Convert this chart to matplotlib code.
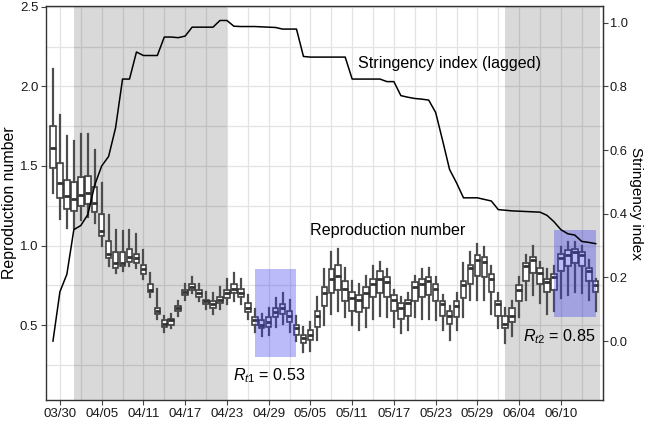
import numpy as np
import pandas as pd
import matplotlib
matplotlib.use('Agg')
import matplotlib.pyplot as plt
import matplotlib.dates as mdates
from matplotlib.patches import Rectangle

plt.rcParams['font.family'] = ['Liberation Sans', 'DejaVu Sans']
plt.rcParams['mathtext.fontset'] = 'custom'
plt.rcParams['mathtext.it'] = 'Liberation Sans:italic'
plt.rcParams['mathtext.rm'] = 'Liberation Sans'

# daily estimates, 03/29 .. 06/15
dates = pd.date_range('2020-03-29', '2020-06-15')

r_lo = [1.33, 1.17, 1.11, 1.11, 1.16, 1.18, 1.14, 1.00, 0.87, 0.83,
        0.84, 0.87, 0.86, 0.79, 0.68, 0.54, 0.46, 0.48, 0.56, 0.66,
        0.70, 0.65, 0.60, 0.57, 0.60, 0.63, 0.65, 0.63, 0.54, 0.46,
        0.43, 0.44, 0.49, 0.51, 0.46, 0.40, 0.33, 0.34, 0.41, 0.50,
        0.57, 0.59, 0.55, 0.50, 0.47, 0.49, 0.54, 0.56, 0.55, 0.49,
        0.45, 0.47, 0.55, 0.54, 0.54, 0.53, 0.47, 0.41, 0.47, 0.55,
        0.66, 0.66, 0.66, 0.57, 0.48, 0.39, 0.43, 0.55, 0.66, 0.69,
        0.64, 0.57, 0.59, 0.67, 0.69, 0.71, 0.70, 0.66, 0.59]
r_q1 = [1.49, 1.30, 1.23, 1.22, 1.25, 1.26, 1.21, 1.06, 0.92, 0.86,
        0.87, 0.90, 0.89, 0.82, 0.71, 0.57, 0.49, 0.50, 0.59, 0.69,
        0.72, 0.68, 0.63, 0.61, 0.64, 0.67, 0.70, 0.68, 0.58, 0.50,
        0.48, 0.49, 0.55, 0.57, 0.52, 0.44, 0.39, 0.41, 0.49, 0.62,
        0.70, 0.72, 0.65, 0.59, 0.58, 0.61, 0.68, 0.70, 0.68, 0.59,
        0.54, 0.56, 0.65, 0.68, 0.69, 0.65, 0.56, 0.51, 0.55, 0.67,
        0.76, 0.81, 0.80, 0.71, 0.56, 0.48, 0.52, 0.65, 0.78, 0.83,
        0.76, 0.71, 0.72, 0.84, 0.87, 0.89, 0.87, 0.78, 0.71]
r_med = [1.61, 1.39, 1.31, 1.29, 1.32, 1.33, 1.27, 1.09, 0.95, 0.89,
         0.89, 0.93, 0.92, 0.85, 0.72, 0.59, 0.51, 0.53, 0.61, 0.71,
         0.74, 0.70, 0.65, 0.63, 0.66, 0.70, 0.73, 0.70, 0.61, 0.53,
         0.50, 0.52, 0.58, 0.61, 0.56, 0.48, 0.42, 0.44, 0.56, 0.70,
         0.79, 0.81, 0.73, 0.67, 0.66, 0.70, 0.76, 0.79, 0.77, 0.66,
         0.61, 0.64, 0.74, 0.76, 0.78, 0.73, 0.63, 0.56, 0.62, 0.75,
         0.86, 0.91, 0.90, 0.79, 0.63, 0.51, 0.56, 0.72, 0.87, 0.91,
         0.83, 0.77, 0.80, 0.92, 0.94, 0.96, 0.94, 0.84, 0.75]
r_q3 = [1.75, 1.52, 1.41, 1.40, 1.43, 1.44, 1.37, 1.20, 1.03, 0.96,
        0.96, 0.98, 0.95, 0.88, 0.76, 0.61, 0.53, 0.54, 0.62, 0.72,
        0.76, 0.72, 0.66, 0.65, 0.68, 0.72, 0.76, 0.73, 0.64, 0.55,
        0.53, 0.55, 0.61, 0.63, 0.59, 0.50, 0.44, 0.47, 0.59, 0.74,
        0.85, 0.88, 0.78, 0.71, 0.69, 0.74, 0.79, 0.84, 0.80, 0.69,
        0.64, 0.66, 0.77, 0.79, 0.80, 0.76, 0.65, 0.59, 0.65, 0.78,
        0.88, 0.94, 0.93, 0.82, 0.65, 0.56, 0.61, 0.75, 0.89, 0.93,
        0.86, 0.79, 0.82, 0.95, 0.97, 0.98, 0.96, 0.86, 0.78]
r_hi = [2.11, 1.82, 1.69, 1.66, 1.70, 1.70, 1.60, 1.39, 1.19, 1.10,
        1.09, 1.10, 1.07, 0.97, 0.83, 0.73, 0.56, 0.57, 0.65, 0.76,
        0.80, 0.76, 0.71, 0.70, 0.74, 0.79, 0.83, 0.79, 0.69, 0.60,
        0.57, 0.61, 0.67, 0.70, 0.66, 0.56, 0.49, 0.52, 0.68, 0.85,
        0.96, 0.98, 0.86, 0.78, 0.76, 0.81, 0.87, 0.90, 0.85, 0.72,
        0.68, 0.70, 0.81, 0.85, 0.86, 0.80, 0.69, 0.62, 0.70, 0.89,
        0.96, 1.01, 0.99, 0.87, 0.70, 0.61, 0.65, 0.80, 0.94, 1.00,
        0.90, 0.85, 0.87, 0.99, 1.02, 1.02, 1.00, 0.91, 0.79]

stringency = [0.00, 0.155, 0.21, 0.35, 0.363, 0.397, 0.49, 0.55, 0.58, 0.67,
              0.823, 0.823, 0.908, 0.897, 0.897, 0.897, 0.955, 0.955, 0.953, 0.958,
              0.986, 0.986, 0.986, 0.986, 1.007, 1.007, 0.989, 0.988, 0.988, 0.988,
              0.987, 0.986, 0.985, 0.98, 0.98, 0.98, 0.894, 0.892, 0.892, 0.892,
              0.892, 0.892, 0.892, 0.823, 0.823, 0.823, 0.823, 0.823, 0.815, 0.815,
              0.771, 0.766, 0.762, 0.76, 0.757, 0.718, 0.63, 0.539, 0.497, 0.45,
              0.45, 0.45, 0.445, 0.44, 0.413, 0.411, 0.409, 0.408, 0.407, 0.406,
              0.405, 0.395, 0.375, 0.35, 0.337, 0.333, 0.313, 0.31, 0.306]

tick_dates = pd.date_range('2020-03-30', '2020-06-10', freq='6D')
minor_dates = pd.date_range('2020-04-02', '2020-06-13', freq='6D')
gray_spans = [('2020-04-01', '2020-04-23'), ('2020-06-02', '2020-06-15 14:00')]
blue_boxes = [('2020-04-27', '2020-05-03', 0.30, 0.85),
              ('2020-06-09', '2020-06-15', 0.55, 1.10)]

x = mdates.date2num(dates)

fig = plt.figure(figsize=(6.45, 4.24), dpi=100)
ax = fig.add_axes([46/645, 24/424, 557/645, 394/424])
ax.set_axisbelow(True)

for a, b in gray_spans:
    ax.axvspan(mdates.date2num(pd.Timestamp(a)), mdates.date2num(pd.Timestamp(b)),
               color='black', alpha=0.15, lw=0, zorder=0.6)

stats = []
for i in range(len(x)):
    stats.append(dict(whislo=r_lo[i], q1=r_q1[i], med=r_med[i], q3=r_q3[i],
                      whishi=r_hi[i], fliers=[]))
ax.bxp(stats, positions=x, widths=0.8, showfliers=False, showcaps=False,
       patch_artist=True, manage_ticks=False,
       boxprops=dict(facecolor='white', edgecolor='#333333', linewidth=1.1),
       medianprops=dict(color='#333333', linewidth=2.0),
       whiskerprops=dict(color='#4d4d4d', linewidth=1.6))

for a, b, y0, y1 in blue_boxes:
    x0 = mdates.date2num(pd.Timestamp(a))
    x1 = mdates.date2num(pd.Timestamp(b))
    ax.add_patch(Rectangle((x0, y0), x1 - x0, y1 - y0, facecolor='#3c3cf0',
                           alpha=0.35, lw=0, zorder=3))

ax.plot(x, 2 * np.array(stringency) + 0.4, color='black', lw=1.1, zorder=4)

ax.set_xlim(x[1] - 2.0, x[1] + 78.05)
ax.set_ylim(0.03, 2.505)
ax.set_xticks(mdates.date2num(tick_dates))
ax.set_xticklabels([d.strftime('%m/%d') for d in tick_dates])
ax.set_xticks(mdates.date2num(minor_dates), minor=True)
ax.set_yticks([0.5, 1.0, 1.5, 2.0, 2.5])
ax.set_yticks([0.25, 0.75, 1.25, 1.75, 2.25], minor=True)
ax.grid(True, which='major', color='#e3e3e3', lw=0.9)
ax.grid(True, which='minor', color='#e3e3e3', lw=0.9)
ax.tick_params(which='minor', length=0)
ax.tick_params(which='major', length=3.5, width=0.8, color='#444444',
               labelsize=9.5, labelcolor='#1a1a1a', pad=2)
for s in ax.spines.values():
    s.set_color('#333333')
    s.set_linewidth(1.0)

ax.set_ylabel('Reproduction number', fontsize=11.4, labelpad=2)

sec = ax.secondary_yaxis('right', functions=(lambda v: (v - 0.4) / 2, lambda v: 2 * v + 0.4))
sec.set_yticks([0.0, 0.2, 0.4, 0.6, 0.8, 1.0])
sec.tick_params(length=3.5, width=0.8, color='#444444', labelsize=9.3,
                labelcolor='#1a1a1a', pad=1.5)
sec.spines['right'].set_color('#333333')
# right-hand axis title, placed by hand so it sits beside the tick labels
fig.text(636/645, 1 - 203/424, 'Stringency index', fontsize=11, rotation=-90,
         va='center', ha='center')

ax.text(x[1] + 42.8, 2.146, 'Stringency index (lagged)', fontsize=11.6, va='center')
ax.text(x[1] + 35.9, 1.097, 'Reproduction number', fontsize=11.6, va='center')
ax.text(x[1] + 24.9, 0.18, r'$R_{t1}$ = 0.53', fontsize=11.6, va='center')
ax.text(x[1] + 66.5, 0.43, r'$R_{t2}$ = 0.85', fontsize=11.6, va='center')

fig.savefig('out.png', dpi=100)
